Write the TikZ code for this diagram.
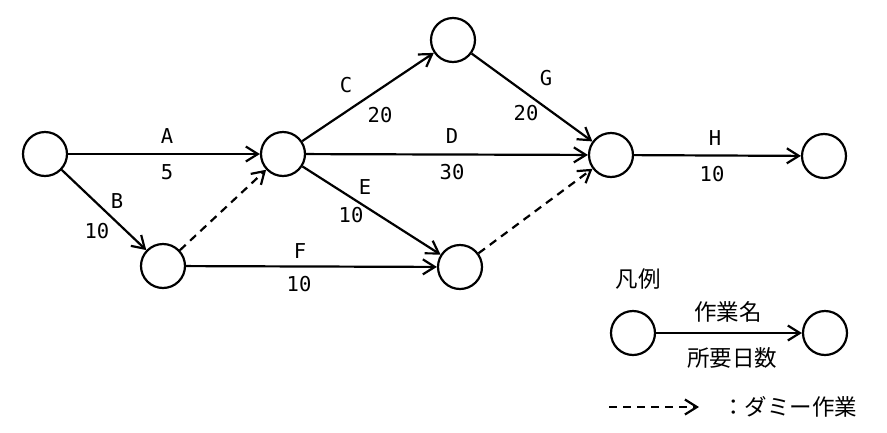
\documentclass[tikz,border=0pt]{standalone}
\usepackage{fontspec}
\usetikzlibrary{arrows.meta}
\newfontfamily\lblfont{DejaVu Sans Mono}
\newfontfamily\jpfont{Noto Sans CJK JP}
\begin{document}
\begin{tikzpicture}[x=1pt,y=-1pt,
  ev/.style={circle,draw,line width=2.2pt,minimum size=44pt,inner sep=0pt},
  act/.style={line width=2.2pt,-{Straight Barb[length=12pt,width=15pt,line width=2.2pt]}},
  dummy/.style={act,dash pattern=on 8pt off 6pt},
  lbl/.style={font=\lblfont\fontsize{20.5}{20.5}\selectfont,inner sep=0pt},
  jp/.style={font=\jpfont\fontsize{22.5}{22.5}\selectfont,inner sep=0pt}]
\useasboundingbox (0,0) rectangle (887,432);
\node[ev] (n1) at (45,154) {};
\node[ev] (n2) at (163,266) {};
\node[ev] (n3) at (283,154) {};
\node[ev] (n4) at (453,40) {};
\node[ev] (n5) at (460,267) {};
\node[ev] (n6) at (611,155) {};
\node[ev] (n7) at (824,156) {};
\draw[act] (n1) -- (n3);
\draw[act] (n1) -- (n2);
\draw[dummy] (n2) -- (n3);
\draw[act] (n2) -- (n5);
\draw[act] (n3) -- (n4);
\draw[act] (n3) -- (n6);
\draw[act] (n3) -- (n5);
\draw[act] (n4) -- (n6);
\draw[dummy] (n5) -- (n6);
\draw[act] (n6) -- (n7);
% labels
\node[lbl] (lA) at (167,136) {A};
\node[lbl] (tA) at (167,172) {5};
\node[lbl] (lB) at (117,201) {B};
\node[lbl] (tB) at (97,231) {10};
\node[lbl] (lC) at (346,85) {C};
\node[lbl] (tC) at (380,115) {20};
\node[lbl] (lD) at (452,136) {D};
\node[lbl] (tD) at (452,172) {30};
\node[lbl] (lE) at (365,187) {E};
\node[lbl] (tE) at (351,215) {10};
\node[lbl] (lF) at (300,251) {F};
\node[lbl] (tF) at (299,284) {10};
\node[lbl] (lG) at (546,78) {G};
\node[lbl] (tG) at (526,113) {20};
\node[lbl] (lH) at (715,138) {H};
\node[lbl] (tH) at (712,174) {10};
% legend
\node[jp] (leg) at (638,279) {凡例};
\node[ev] (la) at (633,333) {};
\node[ev] (lb) at (825,333) {};
\draw[act] (la) -- (lb);
\node[jp] (lname) at (728,312) {作業名};
\node[jp] (ldays) at (732,358) {所要日数};
\coordinate (d1) at (609,407);
\coordinate (d2) at (699,407);
\draw[dummy] (d1) -- (d2);
\node[jp,anchor=west] (ldum) at (722,407) {：ダミー作業};
\end{tikzpicture}
\end{document}
